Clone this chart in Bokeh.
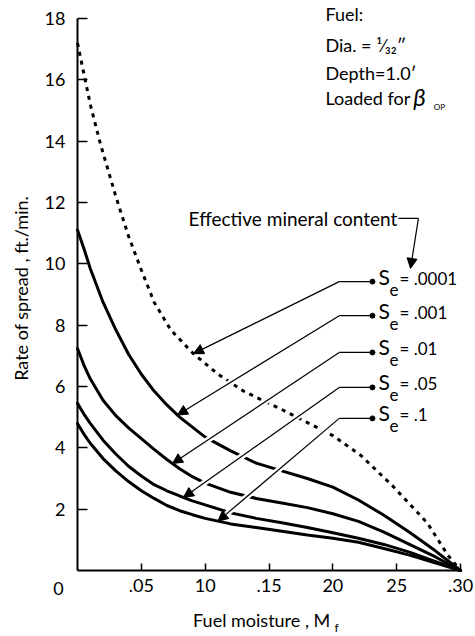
import numpy as np
from bokeh.plotting import figure
from bokeh.models import Label, Arrow, NormalHead, FixedTicker
from bokeh.embed import file_html
from bokeh.resources import INLINE

FONT = "Lato"

# ---------------- data ----------------
# Fuel moisture M_f (fraction) and rate of spread (ft./min.)
m_se_0001 = [0.0, 0.005, 0.010, 0.018, 0.030, 0.040, 0.050, 0.060, 0.073, 0.090,
             0.110, 0.130, 0.160, 0.200, 0.222, 0.247, 0.274, 0.290, 0.300]
r_se_0001 = [17.2, 16.2, 15.2, 13.9, 12.2, 10.9, 9.8, 8.75, 7.85, 7.1,
             6.4, 5.85, 5.25, 4.4, 3.75, 2.75, 1.55, 0.5, 0.0]

m_se_001 = [0.0, 0.005, 0.010, 0.020, 0.030, 0.040, 0.050, 0.060, 0.070, 0.080,
            0.100, 0.120, 0.140, 0.160, 0.180, 0.200, 0.220, 0.240, 0.260, 0.280, 0.300]
r_se_001 = [11.1, 10.5, 9.85, 8.75, 7.85, 7.05, 6.4, 5.85, 5.4, 5.0,
            4.35, 3.9, 3.5, 3.25, 3.0, 2.72, 2.3, 1.8, 1.25, 0.65, 0.0]

m_grid = [0.0, 0.005, 0.01, 0.02, 0.03, 0.04, 0.05, 0.06, 0.07, 0.08, 0.09,
          0.10, 0.12, 0.14, 0.16, 0.18, 0.20, 0.22, 0.24, 0.26, 0.28, 0.30]
r_se_01 = [7.24, 6.7, 6.25, 5.55, 5.05, 4.65, 4.3, 3.95, 3.62, 3.32, 3.06,
           2.85, 2.55, 2.35, 2.2, 2.05, 1.85, 1.6, 1.25, 0.85, 0.45, 0.0]
r_se_05 = [5.45, 5.1, 4.8, 4.25, 3.8, 3.4, 3.08, 2.8, 2.6, 2.43, 2.27,
           2.14, 1.88, 1.7, 1.56, 1.4, 1.23, 1.05, 0.85, 0.6, 0.3, 0.0]
r_se_1 = [4.79, 4.45, 4.15, 3.65, 3.25, 2.9, 2.6, 2.35, 2.12, 1.95, 1.82,
          1.7, 1.52, 1.4, 1.28, 1.16, 1.05, 0.92, 0.72, 0.5, 0.25, 0.0]

se_labels = [".0001", ".001", ".01", ".05", ".1"]

x_tick_values = [0.05, 0.10, 0.15, 0.20, 0.25, 0.30]
x_tick_labels = [".05", "10", ".15", "20", "25", ".30"]
y_tick_values = [2, 4, 6, 8, 10, 12, 14, 16, 18]

# ---------------- layout of the call-outs (annotation anchors) ----------------
callout_dot_m = 0.231
callout_elbow_m = 0.205
callout_dot_r = [9.42, 8.31, 7.11, 5.97, 4.96]
callout_tip_m = [0.0908, 0.0783, 0.0744, 0.083, 0.110]

p = figure(width=475, height=636, x_range=(-0.0603, 0.3117), y_range=(-2.152, 18.587),
           output_backend="svg", toolbar_location=None,
           min_border_left=0, min_border_right=0, min_border_top=0, min_border_bottom=0)
p.grid.visible = False
p.outline_line_color = None
p.background_fill_color = "white"

# curves
p.line(m_se_0001, r_se_0001, line_width=3, line_color="black", line_dash="4 5")
solid = [(m_se_001, r_se_001), (m_grid, r_se_01), (m_grid, r_se_05), (m_grid, r_se_1)]
for mx, ry in solid:
    p.line(mx, ry, line_width=3, line_color="black", line_cap="round")

curves = [(m_se_0001, r_se_0001)] + solid
tip_r = [float(np.interp(tm, cm, cr)) for tm, (cm, cr) in zip(callout_tip_m, curves)]

# white halos under the leader lines (break curves where leaders cross)
t = 0.93
hx1 = [callout_elbow_m + t * (tm - callout_elbow_m) for tm in callout_tip_m]
hy1 = [dr + t * (tr - dr) for dr, tr in zip(callout_dot_r, tip_r)]
p.segment(x0=[callout_elbow_m] * 5, y0=callout_dot_r, x1=hx1, y1=hy1,
          line_color="white", line_width=6)

# horizontal leader pieces and dots
p.segment(x0=[callout_elbow_m] * 5, y0=callout_dot_r, x1=[callout_dot_m] * 5, y1=callout_dot_r,
          line_color="black", line_width=1.2)
p.scatter([callout_dot_m] * 5, callout_dot_r, size=5, color="black")

for dr, tm, tr in zip(callout_dot_r, callout_tip_m, tip_r):
    p.add_layout(Arrow(end=NormalHead(size=10, fill_color="black", line_color="black", line_width=1),
                       x_start=callout_elbow_m, y_start=dr, x_end=tm, y_end=tr,
                       line_color="black", line_width=1.2))

for dr, lab in zip(callout_dot_r, se_labels):
    p.add_layout(Label(x=callout_dot_m, y=dr, x_offset=6, y_offset=-7, text="S",
                       text_font=FONT, text_font_size="21px", text_color="black"))
    p.add_layout(Label(x=callout_dot_m, y=dr, x_offset=17, y_offset=-14, text="e",
                       text_font=FONT, text_font_size="17px", text_color="black"))
    p.add_layout(Label(x=callout_dot_m, y=dr, x_offset=27, y_offset=-7, text="= " + lab,
                       text_font=FONT, text_font_size="17px", text_color="black"))

# "Effective mineral content" call-out
p.add_layout(Label(x=0.2505, y=11.09, text="Effective mineral content", text_align="right",
                   text_font=FONT, text_font_size="19px", text_color="black"))
p.line([0.2514, 0.267], [11.48, 11.48], line_color="black", line_width=1.2)
p.add_layout(Arrow(end=NormalHead(size=10, fill_color="black", line_color="black", line_width=1),
                   x_start=0.267, y_start=11.48, x_end=0.2608, y_end=9.85,
                   line_color="black", line_width=1.2))

# fuel description
fuel_lines = ["Fuel:", "Dia. = \u00b9\u2044\u2083\u2082\u2033", "Depth=1.0\u2032", "Loaded for"]
fuel_y = [17.80, 16.79, 15.85, 15.06]
for txt, yy in zip(fuel_lines, fuel_y):
    p.add_layout(Label(x=0.1942, y=yy, text=txt, text_font=FONT, text_font_size="18px",
                       text_color="black"))
p.add_layout(Label(x=0.2630, y=15.00, text="\u03b2", text_font=FONT, text_font_size="24px",
                   text_font_style="italic", text_color="black"))
p.add_layout(Label(x=0.2790, y=14.95, text="OP", text_font=FONT, text_font_size="8px",
                   text_color="black"))

# axes drawn at fixed data positions
for ax in (p.xaxis, p.yaxis):
    ax.axis_line_width = 2
    ax.axis_line_color = "black"
    ax.major_tick_line_width = 1.5
    ax.major_tick_line_color = "black"
    ax.major_tick_out = 0
    ax.minor_tick_line_color = None
    ax.major_label_text_font = FONT
    ax.major_label_text_font_size = "18px"
    ax.major_label_text_color = "black"

p.xaxis.fixed_location = 0
p.xaxis.ticker = FixedTicker(ticks=x_tick_values)
p.xaxis.major_label_overrides = dict(zip(x_tick_values, x_tick_labels))
p.xaxis.bounds = (0, 0.30)
p.xaxis.major_tick_in = 7
p.xaxis.major_label_standoff = 8

p.yaxis.fixed_location = 0
p.yaxis.ticker = FixedTicker(ticks=y_tick_values)
p.yaxis.bounds = (0, 18)
p.yaxis.major_tick_in = 10
p.yaxis.major_label_standoff = 12

# corner "0" and axis titles
p.add_layout(Label(x=-0.0149, y=-0.815, text="0", text_align="center",
                   text_font=FONT, text_font_size="18px", text_color="black"))
p.add_layout(Label(x=-0.0446, y=9.2, text="Rate of spread , ft./min.", angle=np.pi / 2,
                   angle_units="rad", text_align="center", text_baseline="middle",
                   text_font=FONT, text_font_size="18px", text_color="black"))
p.add_layout(Label(x=0.198, y=-1.96, text="Fuel moisture , M", text_align="right",
                   text_font=FONT, text_font_size="18px", text_color="black"))
p.add_layout(Label(x=0.2013, y=-2.1, text="f", text_font=FONT, text_font_size="12px",
                   text_color="black"))

open("out.html", "w").write(file_html(p, INLINE))
